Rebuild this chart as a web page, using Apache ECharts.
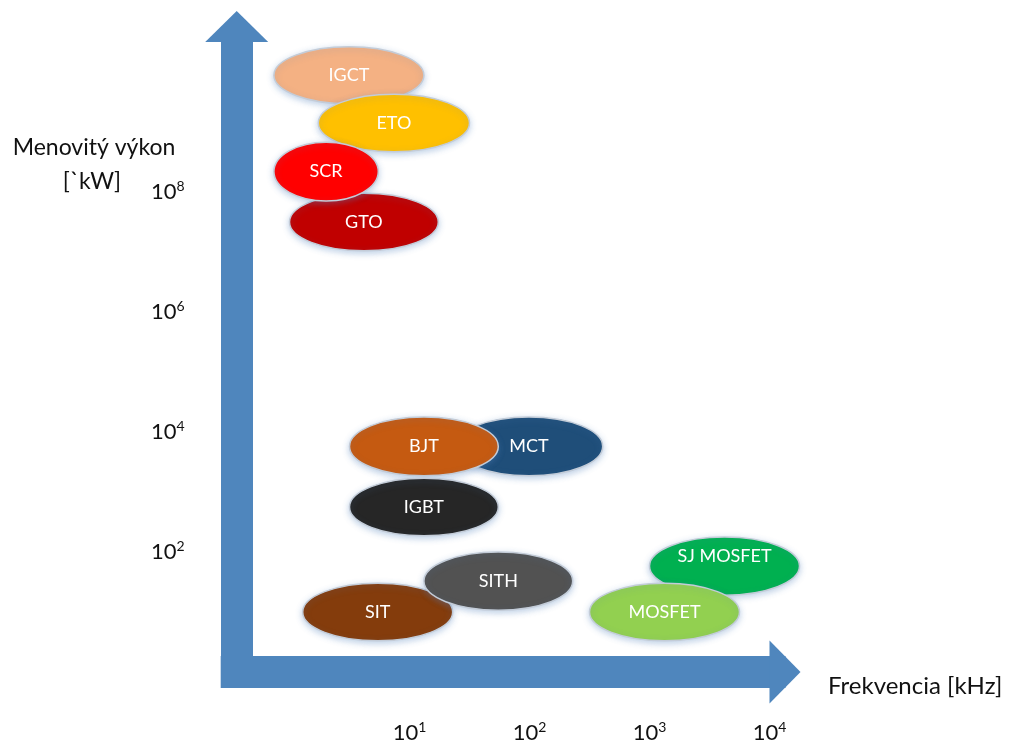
<!DOCTYPE html>
<html><head><meta charset="utf-8">
<script src="https://cdn.jsdelivr.net/npm/echarts@6/dist/echarts.min.js"></script>
<style>html,body{margin:0;padding:0;background:#fff}#c{width:1013px;height:747px}</style>
</head><body><div id="c"></div>
<script>
// Devices (draw order: later ones lie on top)
const devices   = ['IGCT', 'ETO', 'GTO', 'SCR', 'MCT', 'BJT', 'IGBT', 'SIT', 'SITH', 'SJ MOSFET', 'MOSFET'];
// log10 of switching frequency [kHz] – range covered by each device
const freqLogMin = [-0.13, 0.24, 0.00, -0.13, 1.38, 0.50, 0.50, 0.11, 1.12, 3.00, 2.50];
const freqLogMax = [ 1.12, 1.50, 1.24,  0.74, 2.61, 1.74, 1.74, 1.36, 2.36, 4.25, 3.75];
// log10 of rated power [kW] – range covered by each device
const powLogMin  = [ 9.47, 8.67, 7.02, 7.85, 3.27, 3.27, 2.27, 0.52, 1.03, 1.28, 0.52];
const powLogMax  = [10.42, 9.63, 7.98, 8.83, 4.25, 4.25, 3.23, 1.48, 2.00, 2.25, 1.48];
// tick labels (exponents of 10)
const xTickExp = [1, 2, 3, 4];
const yTickExp = [2, 4, 6, 8];

const fills = {
  'IGCT': '#f4b183', 'ETO': '#ffc000', 'GTO': '#c00000', 'SCR': '#ff0000',
  'MCT': '#1f4e79', 'BJT': '#c55a11', 'IGBT': '#262626', 'SIT': '#843c0c',
  'SITH': '#525252', 'SJ MOSFET': '#00b050', 'MOSFET': '#92d050'
};
const labelShift = { 'SJ MOSFET': -10 };

const arrowColor = '#4f86bd';
const font = 'Lato';

const chart = echarts.init(document.getElementById('c'));
const rows = devices.map((d, i) => [i, freqLogMin[i], freqLogMax[i], powLogMin[i], powLogMax[i]]);

const expLabel = {
  formatter: v => '{b|10}{s|' + v + '}',
  rich: {
    b: { fontFamily: font, fontSize: 22, color: '#111', lineHeight: 26 },
    s: { fontFamily: font, fontSize: 14, color: '#111', lineHeight: 14, verticalAlign: 'top' }
  }
};

chart.setOption({
  animation: false,
  backgroundColor: '#fff',
  grid: { left: 236.7, right: 243.5, top: 42, bottom: 75, containLabel: false, outerBoundsMode: 'none' },
  xAxis: {
    type: 'value', min: -0.44, max: 4,
    axisLine: { show: true, onZero: false, symbol: ['none', 'triangle'], symbolSize: [63, 31], symbolOffset: [0, 15.5],
      lineStyle: { color: arrowColor, width: 32, cap: 'square' } },
    axisTick: { show: false }, splitLine: { show: false },
    axisLabel: Object.assign({ customValues: xTickExp, margin: 48 }, expLabel)
  },
  yAxis: {
    type: 'value', min: 0, max: 10.5,
    axisLine: { show: true, onZero: false, symbol: ['none', 'triangle'], symbolSize: [63, 31], symbolOffset: [0, 15.5],
      lineStyle: { color: arrowColor, width: 32, cap: 'butt' } },
    axisTick: { show: false }, splitLine: { show: false },
    axisLabel: Object.assign({ customValues: yTickExp, margin: 52 }, expLabel)
  },
  graphic: [
    { type: 'text', x: 94, y: 148, style: { text: 'Menovitý výkon', font: '23px Lato', fill: '#111', align: 'center', verticalAlign: 'middle', textAlign: 'center', textVerticalAlign: 'middle' } },
    { type: 'text', x: 92, y: 182, style: { text: '[`kW]', font: '23px Lato', fill: '#111', align: 'center', verticalAlign: 'middle', textAlign: 'center', textVerticalAlign: 'middle' } },
    { type: 'text', x: 828, y: 686, style: { text: 'Frekvencia [kHz]', font: '24px Lato', fill: '#111', align: 'left', verticalAlign: 'middle', textAlign: 'left', textVerticalAlign: 'middle' } }
  ],
  series: [{
    type: 'custom',
    data: rows,
    encode: { x: [1, 2], y: [3, 4] },
    renderItem: function (params, api) {
      const p0 = api.coord([api.value(1), api.value(3)]);
      const p1 = api.coord([api.value(2), api.value(4)]);
      const name = devices[params.dataIndex];
      return {
        type: 'ellipse',
        z2: params.dataIndex * 2,
        shape: { cx: (p0[0] + p1[0]) / 2, cy: (p0[1] + p1[1]) / 2, rx: Math.abs(p1[0] - p0[0]) / 2, ry: Math.abs(p1[1] - p0[1]) / 2 },
        style: { fill: fills[name], stroke: '#c3ccd8', lineWidth: 1.5, shadowBlur: 6, shadowOffsetY: 2, shadowColor: 'rgba(79,129,189,0.35)' },
        textContent: { style: { text: name, fill: '#ffffff', font: '18px Lato' } },
        textConfig: { position: 'inside', offset: [0, labelShift[name] || 0] }
      };
    }
  }]
});
</script></body></html>
